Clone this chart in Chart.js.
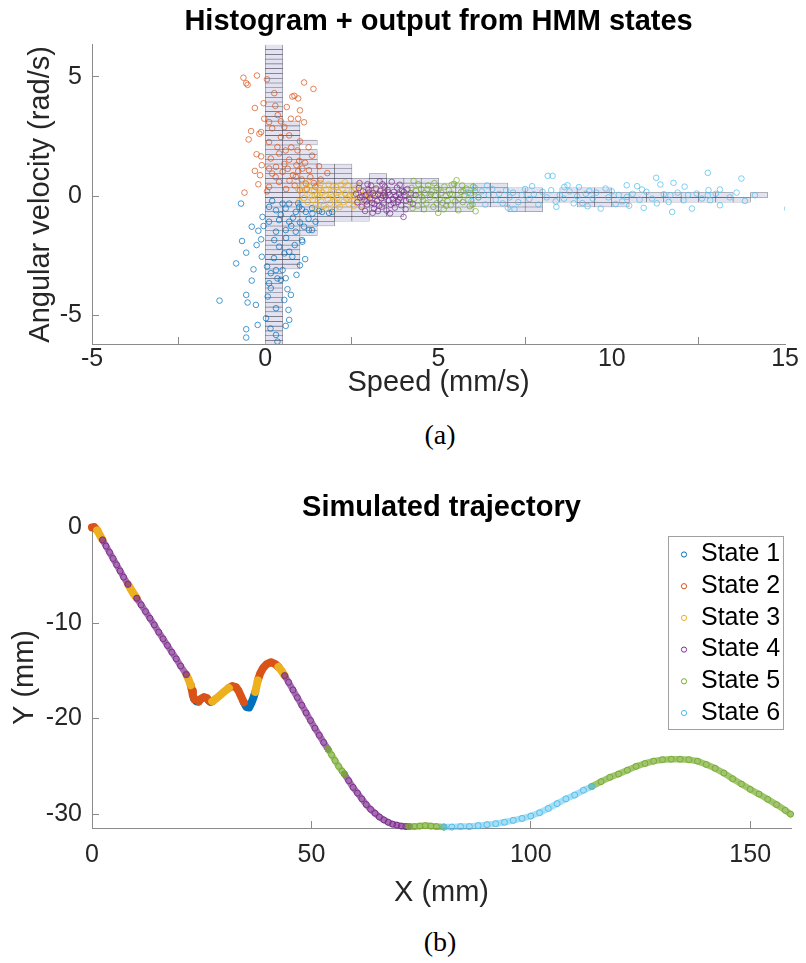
<!DOCTYPE html>
<html>
<head>
<meta charset="utf-8">
<script src="https://cdn.jsdelivr.net/npm/chart.js@4.4.0/dist/chart.umd.min.js"></script>
<style>
  html, body { margin: 0; padding: 0; background: #fff; width: 806px; height: 963px; overflow: hidden; }
  canvas { position: absolute; left: 0; }
  #histChart { top: 0; }
  #trajChart { top: 460px; }
  .cap { position: absolute; left: 340px; width: 200px; text-align: center;
         font-family: "Liberation Serif", "DejaVu Serif", serif; font-size: 28px; color: #000; line-height: 32px; }
</style>
</head>
<body>
<canvas id="histChart" width="806" height="415"></canvas>
<div class="cap" style="top: 419px;">(a)</div>
<canvas id="trajChart" width="806" height="455"></canvas>
<div class="cap" style="top: 926px;">(b)</div>
<script>
// ---- shared ----
const stateNames = ['State 1', 'State 2', 'State 3', 'State 4', 'State 5', 'State 6'];
const stateColors = ['#0072BD', '#D95319', '#EDB120', '#7E2F8E', '#77AC30', '#4DBEEE'];

// ---- (a) histogram + HMM outputs: [speed mm/s, angular velocity rad/s] ----
const speedTicks = [-5, 0, 5, 10, 15];
const angTicks = [-5, 0, 5];

const obsState1 = [
  [-0.70,-0.31],[-0.39,-1.28],[-0.67,-1.88],[-0.55,-2.37],[-0.84,-2.82],[-1.32,-4.38],[-0.55,-4.14],[-0.51,-4.46],
  [-0.34,-3.07],[-0.39,-3.54],[-0.55,-5.58],[-0.55,-5.93],[-0.22,-5.40],[-0.08,-0.87],[-0.20,-1.45],[-0.12,-1.81],
  [-0.10,-2.54],[-0.27,-4.56],[0.07,-4.21],[0.11,-3.65],[0.16,-3.23],[0.31,-3.10],[0.50,-3.10],[0.59,-3.44],
  [0.64,-3.90],[0.74,-4.14],[0.67,-4.77],[0.69,-5.19],[0.59,-5.44],[0.31,-4.70],[0.02,-5.12],[0.31,-5.82],
  [0.35,-6.10],[0.16,-3.86],[0.45,-3.51],[0.55,-2.40],[0.40,-2.12],[0.69,-2.33],[1.07,-1.91],[1.15,-2.64],
  [0.78,-2.54],[0.26,-1.84],[0.31,-1.49],[0.59,-1.42],[0.88,-1.49],[1.26,-1.42],[1.45,-1.07],[0.69,-1.07],
  [0.40,-1.00],[0.11,-1.07],[0.31,-0.59],[0.59,-0.52],[0.88,-0.66],[1.17,-0.66],[1.36,-0.73],[1.64,-0.66],
  [1.84,-0.70],[0.69,-0.31],[0.98,-0.45],[0.50,-0.31],[0.11,-0.45],[1.06,-0.55],[1.35,-0.50],[1.55,-0.62],
  [1.93,-0.66],[1.06,-1.84],[1.12,-1.28],[1.35,-1.42],[0.20,-0.20],[0.45,-0.78],[0.80,-0.90],[1.00,-1.10],
  [0.25,-2.60],[0.05,-2.95],[0.60,-1.75],[0.85,-2.05],[0.95,-0.30],[1.25,-0.95],[-0.05,-1.25],[0.35,-3.45],
  [0.90,-3.30],[0.15,-5.55],[0.55,-4.35],[1.00,-2.90],[-0.25,-2.05],[0.75,-1.25]
];
const obsState2 = [
  [-0.63,4.97],[-0.51,4.67],[-0.24,5.06],[0.05,4.90],[-0.55,4.74],[1.12,4.77],[1.39,4.50],[0.26,4.32],
  [0.78,4.18],[0.84,4.21],[-0.30,3.70],[0.29,3.79],[0.62,3.74],[1.00,3.60],[-0.03,3.25],[0.36,3.40],
  [0.11,3.11],[0.45,3.14],[0.74,3.25],[0.95,3.25],[1.12,3.10],[-0.12,2.69],[-0.41,2.73],[-0.48,2.38],
  [-0.17,2.62],[0.69,2.55],[0.45,2.48],[0.11,2.27],[-0.25,1.76],[-0.12,1.67],[0.35,2.06],[0.59,1.92],
  [0.93,1.92],[0.16,1.58],[0.40,1.79],[0.98,1.48],[0.69,1.53],[-0.30,1.06],[-0.15,0.88],[-0.60,0.15],
  [0.11,1.16],[0.31,1.23],[0.50,1.02],[0.80,0.88],[1.07,1.16],[1.26,1.09],[1.55,1.26],[1.79,0.97],
  [0.11,0.39],[0.40,0.60],[0.88,0.81],[1.17,0.53],[1.45,0.39],[0.20,0.95],[0.55,1.35],[0.70,0.65],
  [0.95,1.05],[1.05,0.70],[1.30,0.80],[1.40,0.55],[1.60,0.70],[0.60,0.30],[0.85,0.45],[1.00,0.25],
  [1.20,0.30],[0.30,0.80],[0.65,1.15],[0.90,1.30],[1.15,1.40],[-0.20,0.50],[0.05,0.20],[0.75,2.05],
  [0.20,2.85],[0.55,2.90],[1.00,2.30],[-0.05,3.90],[0.95,4.10],[-0.10,1.30],[1.35,1.70],[1.25,2.05]
];
const obsState3 = [
  [1.05,0.12],[1.12,-0.08],[1.18,0.31],[1.22,-0.25],[1.28,0.05],[1.33,0.42],[1.37,-0.15],[1.41,0.22],
  [1.46,-0.36],[1.50,0.08],[1.54,-0.05],[1.58,0.35],[1.61,-0.22],[1.65,0.15],[1.69,-0.41],[1.72,0.02],
  [1.76,0.28],[1.80,-0.12],[1.83,0.50],[1.87,-0.30],[1.90,0.10],[1.94,-0.02],[1.97,0.24],[2.01,-0.18],
  [2.05,0.38],[2.08,-0.07],[2.12,0.16],[2.15,-0.45],[2.19,0.04],[2.23,0.30],[2.26,-0.24],[2.30,0.11],
  [2.34,-0.10],[2.38,0.45],[2.41,-0.33],[2.45,0.07],[2.49,0.20],[2.52,-0.15],[2.56,0.00],[2.60,0.33],
  [2.64,-0.28],[2.68,0.12],[2.72,-0.06],[2.76,0.25],[2.80,-0.40],[2.85,0.05],[2.90,0.18],[2.95,-0.20],
  [3.02,0.08],[3.10,-0.10],[3.18,0.28],[3.30,-0.05],[1.25,0.60],[1.60,0.55],[2.00,-0.55],[2.30,0.58],
  [1.45,-0.50],[0.95,0.30],[0.98,-0.20],[2.70,0.45],[1.10,0.45],[1.75,-0.52],[2.18,0.48],[2.55,-0.42],
  [3.40,0.15],[1.35,0.00],[1.95,0.40],[2.40,-0.02],[1.55,0.25],[2.10,-0.30]
];
const obsState4 = [
  [2.62,0.10],[2.66,-0.25],[2.70,0.35],[2.74,-0.05],[2.78,-0.45],[2.82,0.20],[2.86,-0.15],[2.90,0.05],
  [2.94,-0.35],[2.98,0.28],[3.02,-0.10],[3.05,0.45],[3.08,-0.28],[3.11,0.12],[3.14,-0.52],[3.17,0.02],
  [3.20,0.32],[3.23,-0.20],[3.26,0.08],[3.29,-0.40],[3.32,0.22],[3.35,-0.08],[3.38,0.50],[3.41,-0.30],
  [3.44,0.14],[3.47,-0.02],[3.50,-0.60],[3.53,0.26],[3.56,-0.18],[3.59,0.06],[3.62,-0.36],[3.65,0.60],
  [3.68,-0.12],[3.71,0.18],[3.74,-0.48],[3.77,0.00],[3.80,0.36],[3.83,-0.24],[3.86,0.10],[3.89,-0.06],
  [3.92,-0.38],[3.95,0.22],[3.99,-0.87],[4.02,0.04],[4.06,-0.20],[4.10,0.30],[4.15,-0.12],[4.20,0.12],
  [4.26,-0.32],[4.34,0.05],[2.72,0.55],[2.88,-0.62],[3.10,-0.70],[3.30,0.62],[3.60,-0.72],[3.88,0.48],
  [4.05,-0.55],[2.95,0.50],[3.45,0.40],[3.25,-0.62],[2.80,-0.02],[3.00,0.15],[3.15,-0.32],[3.40,0.02],
  [3.55,0.16],[3.70,-0.28],[3.85,-0.14],[4.00,0.18],[3.36,-0.44],[2.92,-0.22]
];
const obsState5 = [
  [4.13,0.10],[4.18,-0.25],[4.22,0.35],[4.28,0.64],[4.30,-0.10],[4.35,0.22],[4.40,-0.40],[4.45,0.05],
  [4.50,0.30],[4.55,-0.18],[4.60,0.12],[4.65,-0.30],[4.70,0.45],[4.75,-0.05],[4.80,0.20],[4.85,-0.45],
  [4.90,0.02],[4.95,0.35],[4.99,-0.70],[5.03,-0.12],[5.08,0.15],[5.12,-0.28],[5.17,0.40],[5.21,0.00],
  [5.26,-0.20],[5.30,0.25],[5.35,-0.38],[5.40,0.08],[5.45,0.52],[5.52,0.67],[5.57,-0.59],[5.60,-0.10],
  [5.65,0.18],[5.70,-0.25],[5.75,0.05],[5.80,0.32],[5.86,-0.15],[5.92,0.12],[5.98,-0.35],[6.07,-0.63],
  [6.05,0.20],[6.15,-0.05],[4.42,0.50],[4.58,-0.55],[4.88,0.55],[5.15,-0.55],[5.38,0.48],[5.68,0.45],
  [4.25,-0.50],[4.78,0.08],[5.00,0.28],[5.22,-0.40],[5.48,-0.22],[5.72,0.22],[4.52,-0.02],[4.68,0.30],
  [5.33,0.10],[5.90,-0.42],[6.00,0.40],[4.95,-0.30]
];
const obsState6 = [
  [8.15,0.85],[8.29,0.85],[7.19,-0.54],[8.63,0.39],[8.72,0.46],[9.05,0.38],[9.15,-0.29],[9.25,0.10],
  [10.43,0.46],[10.73,0.42],[10.87,0.28],[11.28,0.77],[11.40,0.49],[11.78,0.56],[10.92,-0.49],[11.74,-0.66],
  [12.31,-0.52],[12.77,0.98],[13.12,0.28],[13.12,-0.38],[13.74,0.74],[13.84,-0.20],[14.13,0.04],[15.06,-0.52],
  [9.68,-0.52],[9.82,0.32],[10.11,-0.33],[10.44,-0.03],[11.16,-0.10],[11.64,-0.24],[11.69,0.04],[12.07,-0.17],
  [12.45,0.11],[12.79,0.25],[12.84,-0.17],[12.77,0.04],[5.85,0.15],[5.95,-0.20],[6.05,0.35],[6.15,-0.05],
  [6.25,0.20],[6.35,-0.35],[6.45,0.05],[6.55,0.30],[6.65,-0.15],[6.75,0.10],[6.85,-0.30],[6.95,0.25],
  [7.05,-0.05],[7.15,0.15],[7.30,-0.25],[7.40,0.05],[7.50,0.30],[7.62,-0.12],[7.75,0.08],[7.88,-0.35],
  [8.00,0.18],[8.12,-0.05],[8.25,0.25],[8.38,-0.22],[8.50,0.05],[8.62,-0.10],[8.78,0.20],[8.90,-0.30],
  [9.00,0.00],[9.35,0.22],[9.45,-0.10],[9.55,0.15],[9.90,-0.05],[10.00,0.20],[10.20,0.05],[10.30,-0.22],
  [10.60,0.10],[10.80,-0.15],[11.00,0.18],[11.30,-0.30],[11.50,0.08],[11.90,0.15],[12.20,0.05],[12.60,-0.10],
  [13.00,0.10],[13.40,-0.05],[13.60,0.15],[6.40,0.45],[7.00,-0.48],[7.70,0.42],[8.40,-0.45],[9.30,-0.42],
  [10.50,-0.40],[12.10,0.40]
];

// occupied 2-D histogram blocks: column left edge (speed) and lowest / highest bin edge (ang. velocity)
const histBinWidth = 0.5;
const histBinHeight = 0.2;
const histLeft = [0, 0.5, 1.0, 1.0, 1.5, 2.0, 2.5, 3.0, 3.5, 4.0, 4.5, 5.0, 5.5, 6.0, 6.5, 7.0, 7.5,
                  8.0, 8.5, 9.0, 9.5, 10.0, 10.5, 11.0, 11.5, 12.0, 12.5, 13.0, 13.5, 14.0];
const histLow  = [-6.25, -3.05, -1.65, 2.15, -1.25, -1.05, -1.05, -0.85, -0.85, -0.65, -0.65, -0.65, -0.65,
                  -0.45, -0.45, -0.65, -0.65, -0.25, -0.25, -0.45, -0.45, -0.45, -0.25, -0.25, -0.25, -0.25,
                  -0.25, -0.25, -0.25, -0.05];
const histHigh = [6.35, 3.15, 1.95, 2.35, 1.35, 1.35, 0.75, 0.95, 0.75, 0.75, 0.75, 0.55, 0.55,
                  0.55, 0.55, 0.35, 0.35, 0.15, 0.35, 0.35, 0.35, 0.15, 0.15, 0.15, 0.15, 0.15,
                  0.15, 0.15, -0.05, 0.15];

// ---- (b) simulated trajectory, one segment per visited state ----
const trajXTicks = [0, 50, 100, 150];
const trajYTicks = [-30, -20, -10, 0];
const trajSegState = [2, 3, 4, 3, 4, 3, 2, 1, 2, 1, 3, 2, 1, 3, 2, 3, 4, 5, 4, 5, 6, 5];
const trajSegX = [
  [0, 0.5, 1.2],
  [1.2, 1.8, 2.4],
  [2.4, 3.2, 4.0, 4.8, 5.6, 6.4, 7.2, 8.2],
  [8.2, 8.9, 9.5, 10.2],
  [10.2, 11.2, 12.2, 13.2, 14.2, 15.2, 16.2, 17.2, 18.2, 19.2, 20.2, 21.5],
  [21.5, 22.0, 22.5],
  [22.5, 22.8, 23.0, 23.3],
  [23.3, 23.8, 24.3],
  [24.3, 24.8, 25.5, 26.2, 26.6],
  [26.6, 27.0, 27.4],
  [27.4, 28.3, 29.2, 30.2, 31.2],
  [31.2, 32.0, 32.8, 33.4, 34.0, 34.6],
  [34.6, 35.2, 35.8, 36.3, 36.8, 37.2],
  [37.2, 37.5, 37.8],
  [37.8, 38.3, 39.0, 39.8, 40.8, 41.8, 42.5],
  [42.5, 43.2, 43.9],
  [43.9, 44.8, 45.8, 46.8, 47.8, 48.8, 49.8, 50.8, 51.8, 52.8, 53.8],
  [53.8, 54.6, 55.4, 56.2, 57.0, 57.5],
  [57.5, 58.5, 59.5, 60.5, 61.5, 62.5, 63.5, 64.5, 65.5, 66.5, 67.5, 68.5, 69.5, 70.5, 71.5, 72.3],
  [72.3, 73.5, 74.7, 76.0, 77.2, 78.5, 80.2],
  [80.2, 82, 84, 86, 88, 90, 92, 94, 96, 98, 100, 102, 104, 106, 108, 110, 112, 113.9],
  [113.9, 116, 118, 120, 122, 124, 126, 128, 130, 132, 134, 136, 138, 140, 142, 144, 146, 148, 150, 152, 154, 156, 158, 159.2]
];
const trajSegY = [
  [0, 0.05, -0.3],
  [-0.3, -0.8, -1.3],
  [-1.3, -1.95, -2.6, -3.25, -3.9, -4.55, -5.2, -5.95],
  [-5.95, -6.5, -6.95, -7.4],
  [-7.4, -8.1, -8.8, -9.5, -10.2, -10.95, -11.65, -12.35, -13.05, -13.75, -14.5, -15.4],
  [-15.4, -15.9, -16.5],
  [-16.5, -17.1, -17.6, -17.95],
  [-17.95, -18.2, -18.2],
  [-18.2, -17.95, -17.75, -17.85, -18.1],
  [-18.1, -18.25, -18.2],
  [-18.2, -17.9, -17.55, -17.15, -16.8],
  [-16.8, -16.6, -16.7, -17.1, -17.7, -18.3],
  [-18.3, -18.8, -18.85, -18.4, -17.8, -17.2],
  [-17.2, -16.6, -16.0],
  [-16.0, -15.3, -14.7, -14.3, -14.1, -14.3, -14.6],
  [-14.6, -15.0, -15.5],
  [-15.5, -16.2, -17.0, -17.8, -18.6, -19.4, -20.2, -21.0, -21.75, -22.5, -23.2],
  [-23.2, -23.8, -24.4, -25.0, -25.5, -25.8],
  [-25.8, -26.5, -27.2, -27.8, -28.4, -29.0, -29.5, -29.9, -30.3, -30.6, -30.85, -31.05, -31.15, -31.25, -31.3, -31.3],
  [-31.3, -31.3, -31.25, -31.2, -31.25, -31.3, -31.35],
  [-31.35, -31.35, -31.3, -31.3, -31.2, -31.1, -31.0, -30.85, -30.65, -30.45, -30.2, -29.85, -29.4, -28.9, -28.4, -28.0, -27.5, -27.1],
  [-27.1, -26.6, -26.15, -25.8, -25.4, -25.0, -24.7, -24.45, -24.3, -24.25, -24.25, -24.3, -24.45, -24.8, -25.2, -25.7, -26.3, -26.85, -27.4, -27.9, -28.45, -29.0, -29.6, -30.0]
];

// ---- styling helpers ----
Chart.defaults.font.family = '"Liberation Sans", Arial, Helvetica, sans-serif';
Chart.defaults.animation = false;
const axisGray = '#8a8a8a';
const textGray = '#262626';

function withAlpha(hex, a) {
  const n = parseInt(hex.slice(1), 16);
  return `rgba(${(n >> 16) & 255}, ${(n >> 8) & 255}, ${n & 255}, ${a})`;
}

function axis(min, max, tickValues, size, horizontal, titleText, titlePad, tickPad) {
  return {
    type: 'linear', min: min, max: max, offset: false,
    afterBuildTicks: ax => { ax.ticks = tickValues.map(v => ({ value: v })); },
    afterFit: ax => { if (horizontal) ax.height = size; else ax.width = size; },
    grid: { drawOnChartArea: false, drawTicks: true, tickLength: -7, color: axisGray, lineWidth: 1 },
    border: { display: true, color: axisGray, width: 1 },
    ticks: { color: textGray, font: { size: 25 }, padding: tickPad, maxRotation: 0, autoSkip: false },
    title: { display: true, text: titleText, color: textGray, font: { size: 29 }, padding: titlePad }
  };
}

// ---- chart (a) ----
const histCells = [];
histLeft.forEach((left, k) => {
  for (let lo = histLow[k]; lo < histHigh[k] - 1e-6; lo += histBinHeight) {
    histCells.push({ x: left + histBinWidth / 2, y: [lo, lo + histBinHeight] });
  }
});

const obsStates = [obsState1, obsState2, obsState3, obsState4, obsState5, obsState6];
const obsDatasets = obsStates.map((pts, i) => ({
  type: 'scatter',
  label: stateNames[i],
  data: pts.map(p => ({ x: p[0], y: p[1] })),
  pointRadius: 2.8,
  pointBorderWidth: 0.9,
  pointBackgroundColor: 'rgba(0,0,0,0)',
  pointBorderColor: withAlpha(stateColors[i], 0.8),
  order: 6 - i
}));

new Chart(document.getElementById('histChart'), {
  type: 'scatter',
  data: {
    datasets: [{
      type: 'bar',
      label: 'Histogram',
      data: histCells,
      backgroundColor: 'rgb(226, 226, 240)',
      borderColor: 'rgba(55, 55, 75, 0.7)',
      borderWidth: 0.6,
      borderSkipped: false,
      barPercentage: 1,
      categoryPercentage: 1,
      grouped: false,
      order: 10
    }, ...obsDatasets]
  },
  options: {
    responsive: false,
    layout: { padding: { left: 0, right: 17, top: 0, bottom: 0 } },
    plugins: {
      legend: { display: false },
      tooltip: { enabled: false },
      title: {
        display: true, fullSize: false,
        text: 'Histogram + output from HMM states',
        color: '#000', font: { size: 29, weight: 'bold' },
        padding: { top: 5, bottom: 5 }
      }
    },
    scales: {
      x: axis(-5, 15, speedTicks, 71, true, 'Speed (mm/s)', { top: 0, bottom: 15 }, 7),
      y: axis(-6.2, 6.35, angTicks, 92, false, 'Angular velocity (rad/s)', { top: 24, bottom: 0 }, 17)
    }
  }
});

// ---- chart (b) ----
const trajData = stateNames.map(() => []);
trajSegState.forEach((s, k) => {
  const set = trajData[s - 1];
  if (set.length) set.push({ x: trajSegX[k][0], y: null });
  trajSegX[k].forEach((x, j) => set.push({ x: x, y: trajSegY[k][j] }));
});

const bandAlpha = [1, 1, 1, 0.7, 0.7, 0.5];
const trajDatasets = trajData.map((pts, i) => ({
  label: stateNames[i],
  data: pts,
  showLine: true,
  spanGaps: false,
  borderColor: withAlpha(stateColors[i], bandAlpha[i]),
  borderWidth: i < 3 ? 8 : 6.5,
  borderCapStyle: 'round',
  borderJoinStyle: 'round',
  pointRadius: 3,
  pointBorderWidth: 1,
  pointBackgroundColor: 'rgba(0,0,0,0)',
  pointBorderColor: stateColors[i],
  clip: 8,
  order: 6 - i
}));

const legendBox = {
  id: 'legendBox',
  afterDraw(chart) {
    const { ctx, chartArea } = chart;
    const w = 115, h = 193;
    const x0 = chartArea.right - 8 - w, y0 = chartArea.top + 9;
    ctx.save();
    ctx.fillStyle = '#fff';
    ctx.fillRect(x0, y0, w, h);
    ctx.strokeStyle = '#a0a0a0';
    ctx.lineWidth = 1;
    ctx.strokeRect(x0 + 0.5, y0 + 0.5, w, h);
    ctx.font = '25px "Liberation Sans", Arial, sans-serif';
    ctx.textBaseline = 'middle';
    chart.data.datasets.forEach((ds, i) => {
      const cy = y0 + 18.5 + i * 31.7;
      ctx.beginPath();
      ctx.arc(x0 + 16, cy, 2.6, 0, Math.PI * 2);
      ctx.strokeStyle = stateColors[i];
      ctx.lineWidth = 1;
      ctx.stroke();
      ctx.fillStyle = '#000';
      ctx.fillText(ds.label, x0 + 33, cy);
    });
    ctx.restore();
  }
};

new Chart(document.getElementById('trajChart'), {
  type: 'scatter',
  data: { datasets: trajDatasets },
  options: {
    responsive: false,
    layout: { padding: { left: 0, right: 15, top: 0, bottom: 0 } },
    plugins: {
      legend: { display: false },
      tooltip: { enabled: false },
      title: {
        display: true, fullSize: false,
        text: 'Simulated trajectory',
        color: '#000', font: { size: 29, weight: 'bold' },
        padding: { top: 30.6, bottom: 1.6 }
      }
    },
    scales: {
      x: axis(0, 159.3, trajXTicks, 87, true, 'X (mm)', { top: 0, bottom: 4.6 }, 19),
      y: axis(-31.45, 0.05, trajYTicks, 92, false, 'Y (mm)', { top: 7.6, bottom: 0 }, 17)
    }
  },
  plugins: [legendBox]
});
</script>
</body>
</html>
